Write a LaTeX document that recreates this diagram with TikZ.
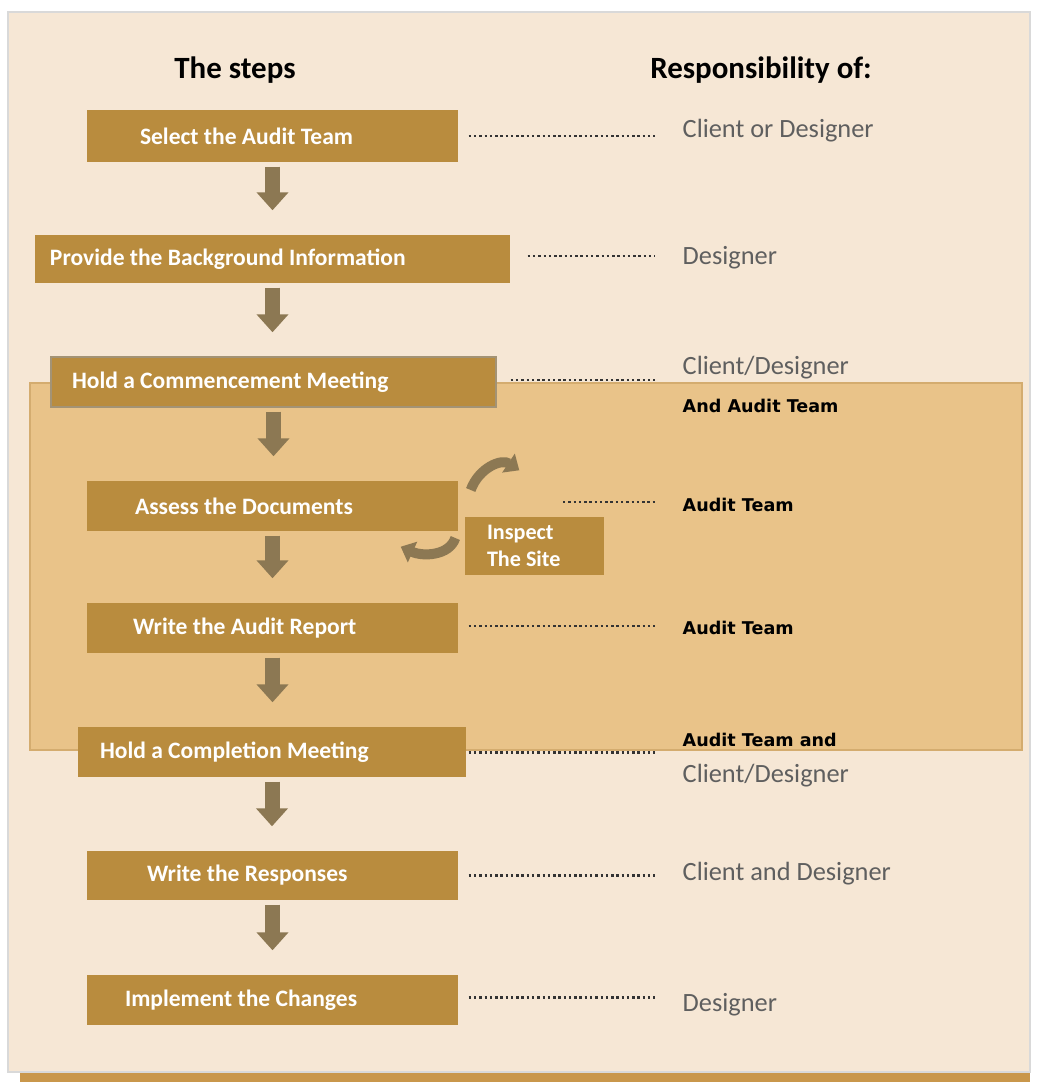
\documentclass[tikz,border=0pt]{standalone}
\usepackage{fontspec}
\setmainfont{Carlito}
\newfontfamily\tahomaish{DejaVu Sans}
\usetikzlibrary{positioning, arrows.meta}

\definecolor{crema}{HTML}{F6E7D5}
\definecolor{arancio}{HTML}{E9C389}
\definecolor{ocra}{HTML}{B98C3E}
\definecolor{freccia}{HTML}{8C7853}
\definecolor{ombra}{HTML}{C9974B}
\definecolor{grigio}{HTML}{5F5F5F}

\begin{document}
\begin{tikzpicture}[
            passo/.style={rectangle, fill=ocra, inner sep=0pt, minimum width=3.71cm, minimum height=0.50cm},
            testo/.style={inner sep=0pt, text=white, font=\bfseries\fontsize{6.7}{8}\selectfont},
            titolo/.style={inner sep=0pt, font=\bfseries\fontsize{8.8}{10}\selectfont},
            resp/.style={inner sep=0pt, anchor=west, text=grigio, font=\fontsize{7.5}{9}\selectfont},
            team/.style={inner sep=0pt, anchor=west, text=black, font=\tahomaish\bfseries\fontsize{5}{6}\selectfont},
            punti/.style={draw=black!80, line width=0.85pt, dash pattern=on 0.7pt off 0.8pt},
            giu/.style={draw=freccia, line width=0.15cm, -{Triangle[width=0.31cm, length=0.18cm]}, shorten <=0.04cm, shorten >=0.24cm},
            giro/.style={draw=freccia, line width=0.10cm, -{Triangle[width=0.22cm, length=0.13cm]}}
            ]

        % sfondo
        \useasboundingbox (0,0) rectangle (10.46,-10.83);
        \fill[ombra] (0.20,-10.72) rectangle (10.30,-10.82);
        \filldraw[fill=crema, draw=black!15, line width=0.5pt] (0.08,-0.12) rectangle (10.30,-10.72);
        \filldraw[fill=arancio, draw=ombra!80, line width=0.4pt] (0.30,-3.83) rectangle (10.22,-7.50);

        % titoli
        \node[titolo] (t1) at (2.35,-0.70) {The steps};
        \node[titolo] (t2) at (7.61,-0.70) {Responsibility of:};

        % passi
        \node[passo, minimum height=0.52cm] (sel) at (2.725,-1.36) {};
        \node[passo, minimum width=4.75cm, minimum height=0.48cm] (bg) at (2.725,-2.59) {};
        \node[passo, minimum width=4.45cm, draw=freccia!80, line width=0.4pt] (hc) at (2.735,-3.82) {};
        \node[passo] (ad) at (2.725,-5.06) {};
        \node[passo, minimum width=1.39cm, minimum height=0.58cm] (ins) at (5.345,-5.46) {};
        \node[passo] (war) at (2.725,-6.28) {};
        \node[passo, minimum width=3.88cm] (cm) at (2.72,-7.52) {};
        \node[passo, minimum height=0.49cm] (wr) at (2.725,-8.755) {};
        \node[passo] (ic) at (2.725,-10.00) {};

        \node[testo, right=0.53cm of sel.west] (sel-t) {Select the Audit Team};
        \node[testo, right=0.15cm of bg.west] (bg-t) {Provide the Background Information};
        \node[testo, right=0.21cm of hc.west] (hc-t) {Hold a Commencement Meeting};
        \node[testo, right=0.48cm of ad.west] (ad-t) {Assess the Documents};
        \node[testo, right=0.22cm of ins.west, align=left, font=\bfseries\fontsize{6.3}{7.6}\selectfont] (ins-t) {Inspect\\The Site};
        \node[testo, right=0.46cm of war.west] (war-t) {Write the Audit Report};
        \node[testo, right=0.22cm of cm.west] (cm-t) {Hold a Completion Meeting};
        \node[testo, right=0.60cm of wr.west] (wr-t) {Write the Responses};
        \node[testo, right=0.38cm of ic.west] (ic-t) {Implement the Changes};

        % frecce
        \draw[giu] (sel.south) -- (sel.south |- bg.north);
        \draw[giu] (bg.south) -- (bg.south |- hc.north);
        \draw[giu] (hc.south) -- (hc.south |- ad.north);
        \draw[giu] (ad.south) -- (ad.south |- war.north);
        \draw[giu] (war.south) -- (war.south |- cm.north);
        \draw[giu] (cm.south) -- (cm.south |- wr.north);
        \draw[giu] (wr.south) -- (wr.south |- ic.north);

        \draw[giro] ([shift={(0.12,0.16)}]ad.east) .. controls +(0.08,0.22) and +(-0.18,0.12) .. ([shift={(0.55,0.46)}]ins.north west);
        \draw[giro] ([shift={(-0.09,0.08)}]ins.west) .. controls +(-0.06,-0.18) and +(0.22,-0.10) .. ([shift={(-0.58,-0.15)}]ad.south east);

        % responsabilita
        \node[resp] (r1) at (6.82,-1.31) {Client or Designer};
        \node[resp] (r2) at (6.82,-2.58) {Designer};
        \node[resp] (r3) at (6.82,-3.68) {Client/Designer};
        \node[team] (r3b) at (6.82,-4.06) {And Audit Team};
        \node[team] (r4) at (6.82,-5.05) {Audit Team};
        \node[team] (r5) at (6.82,-6.28) {Audit Team};
        \node[team] (r6) at (6.82,-7.40) {Audit Team and};
        \node[resp] (r6b) at (6.82,-7.76) {Client/Designer};
        \node[resp] (r7) at (6.82,-8.74) {Client and Designer};
        \node[resp] (r8) at (6.82,-10.05) {Designer};

        \draw[punti] ([xshift=0.10cm]sel.east) -- ([xshift=-0.27cm]sel.east -| r1.west);
        \draw[punti] ([shift={(0.17,0.03)}]bg.east) -- ([shift={(-0.27,0.03)}]bg.east -| r2.west);
        \draw[punti] ([shift={(0.14,0.02)}]hc.east) -- ([shift={(-0.27,0.02)}]hc.east -| r3.west);
        \draw[punti] ([shift={(-1.19,0.03)}]r4.west) -- ([shift={(-0.27,0.03)}]r4.west);
        \draw[punti] ([shift={(0.10,0.02)}]war.east) -- ([shift={(-0.27,0.02)}]war.east -| r5.west);
        \draw[punti] ([xshift=0.02cm]cm.east) -- ([xshift=-0.27cm]cm.east -| r6.west);
        \draw[punti] ([xshift=0.10cm]wr.east) -- ([xshift=-0.27cm]wr.east -| r7.west);
        \draw[punti] ([shift={(0.10,0.03)}]ic.east) -- ([shift={(-0.27,0.03)}]ic.east -| r8.west);
        \end{tikzpicture}
\end{document}
